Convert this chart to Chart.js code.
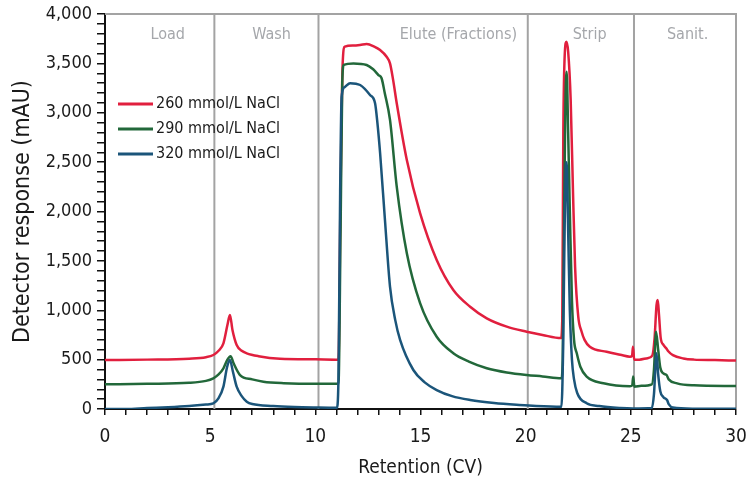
<!DOCTYPE html>
<html>
<head>
<meta charset="utf-8">
<script src="https://cdn.jsdelivr.net/npm/chart.js@4.4.1/dist/chart.umd.min.js"></script>
<style>
html,body{margin:0;padding:0;background:#fff;}
#wrap{width:752px;height:481px;}
</style>
</head>
<body>
<div id="wrap"><canvas id="c" width="752" height="481"></canvas></div>
<script>
// ---- Data ----
const seriesLabels = ["260 mmol/L NaCl", "290 mmol/L NaCl", "320 mmol/L NaCl"];

const redX = [0, 2, 4, 4.8, 5.15, 5.4, 5.63, 5.82, 5.94, 6.06, 6.26, 6.5, 6.74, 7.3, 8.32, 10, 11.1, 11.2, 11.3, 11.4, 11.8, 12.13, 12.44, 12.8, 13.08, 13.39, 13.55, 13.7, 13.87, 14.35, 14.98, 15.77, 16.56, 17.36, 18.15, 19.1, 20.05, 20.8, 21.68, 21.74, 21.79, 21.86, 21.94, 22.02, 22.14, 22.25, 22.35, 22.5, 22.65, 22.8, 23.05, 23.85, 24.5, 24.96, 25.06, 25.1, 25.16, 25.4, 25.8, 26.02, 26.13, 26.22, 26.28, 26.34, 26.42, 26.55, 26.7, 26.78, 27.0, 27.5, 28, 29, 30];
const redY = [495, 500, 510, 525, 547, 590, 665, 850, 952, 800, 648, 590, 564, 535, 509, 503, 500, 2200, 3500, 3669, 3680, 3686, 3696, 3670, 3635, 3567, 3500, 3330, 3096, 2521, 1983, 1509, 1205, 1036, 918, 834, 783, 750, 718, 900, 2800, 3600, 3720, 3620, 3129, 2200, 1438, 935, 790, 700, 630, 580, 550, 530, 540, 630, 500, 500, 515, 540, 720, 1050, 1104, 950, 720, 650, 610, 585, 545, 512, 500, 495, 490];

const greenX = [0, 2, 4, 4.8, 5.15, 5.4, 5.63, 5.82, 5.97, 6.12, 6.42, 7, 7.53, 8.5, 10, 11.1, 11.2, 11.28, 11.35, 11.81, 12.44, 12.75, 13.0, 13.15, 13.3, 13.55, 13.87, 14.35, 14.98, 15.77, 16.56, 17.3, 18.15, 19.1, 20.05, 20.8, 21.7, 21.76, 21.82, 21.89, 21.95, 22.02, 22.1, 22.2, 22.3, 22.43, 22.6, 22.9, 23.7, 24.96, 25.07, 25.11, 25.17, 25.5, 26.0, 26.1, 26.2, 26.3, 26.4, 26.55, 26.7, 26.8, 27.2, 28, 30];
const greenY = [250, 255, 265, 285, 311, 350, 412, 500, 535, 460, 344, 300, 277, 262, 255, 255, 1800, 3300, 3484, 3500, 3484, 3440, 3382, 3349, 3200, 2927, 2251, 1577, 1073, 732, 565, 480, 413, 370, 344, 330, 311, 500, 1800, 3100, 3416, 2800, 2000, 1100, 700, 564, 428, 327, 260, 230, 240, 330, 226, 235, 250, 400, 783, 600, 420, 360, 344, 300, 260, 240, 233];

const blueX = [0, 1, 2, 3, 4, 4.8, 5.15, 5.4, 5.63, 5.8, 5.94, 6.08, 6.26, 6.5, 6.74, 7, 8, 9, 10, 11.02, 11.1, 11.18, 11.25, 11.4, 11.65, 12.13, 12.6, 12.84, 12.95, 13.08, 13.31, 13.55, 13.8, 14.03, 14.66, 15.2, 15.77, 16.5, 17.36, 18.5, 19.7, 20.5, 21.7, 21.78, 21.85, 21.9, 21.95, 22.02, 22.1, 22.2, 22.3, 22.45, 22.9, 23.5, 24.5, 25.1, 26.0, 26.1, 26.22, 26.3, 26.4, 26.55, 26.72, 26.8, 27.0, 28, 30];
const blueY = [0, 0, 10, 18, 30, 45, 57, 110, 226, 420, 496, 380, 226, 130, 74, 50, 30, 20, 15, 12, 300, 2200, 3163, 3260, 3300, 3281, 3180, 3096, 2900, 2590, 1914, 1240, 900, 700, 395, 270, 192, 130, 91, 60, 40, 30, 23, 600, 1800, 2400, 2500, 1800, 1000, 500, 300, 162, 58, 30, 10, 5, 10, 150, 564, 350, 180, 120, 91, 50, 15, 3, 2];

const phaseBounds = [5.2, 10.15, 20.1, 25.15];
const phaseNames = ["Load", "Wash", "Elute (Fractions)", "Strip", "Sanit."];
const phaseLabelX = [2.98, 7.92, 16.8, 23.04, 27.7];

const xTickStep = 1, xMajor = 5;
const yTickStep = 100, yMajor = 500;

const colors = ["#e11f3e", "#22683a", "#1b557a"];

function pts(xs, ys) { return xs.map((x, i) => ({x: x, y: ys[i]})); }

const FONT = "'Liberation Sans Narrow', 'Arial Narrow', 'DejaVu Sans Condensed', 'Roboto Condensed', sans-serif";

const phasePlugin = {
  id: 'phases',
  beforeDatasetsDraw(chart) {
    const {ctx, chartArea: a, scales: {x}} = chart;
    ctx.save();
    ctx.strokeStyle = '#a3a3a3';
    ctx.lineWidth = 2;
    ctx.beginPath();
    ctx.moveTo(a.left, a.top); ctx.lineTo(a.right, a.top); ctx.lineTo(a.right, a.bottom);
    phaseBounds.forEach(v => {
      const px = x.getPixelForValue(v);
      ctx.moveTo(px, a.top); ctx.lineTo(px, a.bottom);
    });
    ctx.stroke();
    ctx.fillStyle = '#a5a7ab';
    ctx.font = "16px " + FONT;
    ctx.textAlign = 'center';
    ctx.textBaseline = 'middle';
    phaseNames.forEach((n, i) => {
      ctx.fillText(n, x.getPixelForValue(phaseLabelX[i]), a.top + 21);
    });
    ctx.restore();
  }
};

const legendPlugin = {
  id: 'customLegend',
  afterDatasetsDraw(chart) {
    const {ctx, chartArea: a} = chart;
    ctx.save();
    ctx.font = "16px " + FONT;
    ctx.textAlign = 'left';
    ctx.textBaseline = 'middle';
    chart.data.datasets.forEach((ds, i) => {
      const y = a.top + 90 + i * 25;
      ctx.strokeStyle = ds.borderColor;
      ctx.lineWidth = 3;
      ctx.beginPath();
      ctx.moveTo(a.left + 13, y); ctx.lineTo(a.left + 48, y);
      ctx.stroke();
      ctx.fillStyle = '#1a1a1a';
      ctx.fillText(ds.label, a.left + 51, y);
    });
    ctx.restore();
  }
};

new Chart(document.getElementById('c'), {
  type: 'line',
  data: {
    datasets: [
      {label: seriesLabels[0], data: pts(redX, redY), borderColor: colors[0], order: 2},
      {label: seriesLabels[1], data: pts(greenX, greenY), borderColor: colors[1], order: 1},
      {label: seriesLabels[2], data: pts(blueX, blueY), borderColor: colors[2], order: 0}
    ].map(d => Object.assign(d, {borderWidth: 2.5, pointRadius: 0, fill: false, cubicInterpolationMode: 'monotone', tension: 0.4}))
  },
  options: {
    responsive: false,
    animation: false,
    layout: {padding: {left: 0, top: 14, right: 16, bottom: 0}},
    plugins: {legend: {display: false}, tooltip: {enabled: false}},
    scales: {
      x: {
        type: 'linear', min: 0, max: 30,
        afterFit(s) { s.height = 72; s.paddingLeft = 0; s.paddingRight = 0; },
        ticks: {
          stepSize: xTickStep, autoSkip: false, maxRotation: 0, padding: 11,
          color: '#1a1a1a', font: {family: FONT, size: 19},
          callback: v => (v % xMajor === 0 ? String(v) : '')
        },
        grid: {drawOnChartArea: false, drawTicks: true, tickLength: 6, color: '#111', lineWidth: 1.5},
        border: {display: true, color: '#111', width: 2},
        title: {display: true, text: 'Retention (CV)', color: '#1a1a1a', font: {family: FONT, size: 19}, padding: {top: 0, bottom: 2}}
      },
      y: {
        min: 0, max: 4000,
        afterFit(s) { s.width = 105; s.paddingTop = 0; s.paddingBottom = 0; },
        ticks: {
          stepSize: yTickStep, autoSkip: false, padding: 5,
          color: '#1a1a1a', font: {family: FONT, size: 18},
          callback: v => (v % yMajor === 0 ? v.toLocaleString('en-US') : '')
        },
        grid: {drawOnChartArea: false, drawTicks: true, tickLength: 8, color: '#111', lineWidth: 1.5},
        border: {display: true, color: '#111', width: 2},
        title: {display: true, text: 'Detector response (mAU)', color: '#1a1a1a', font: {family: FONT, size: 23}, padding: {top: 9, bottom: 0}}
      }
    }
  },
  plugins: [phasePlugin, legendPlugin]
});
</script>
</body>
</html>
